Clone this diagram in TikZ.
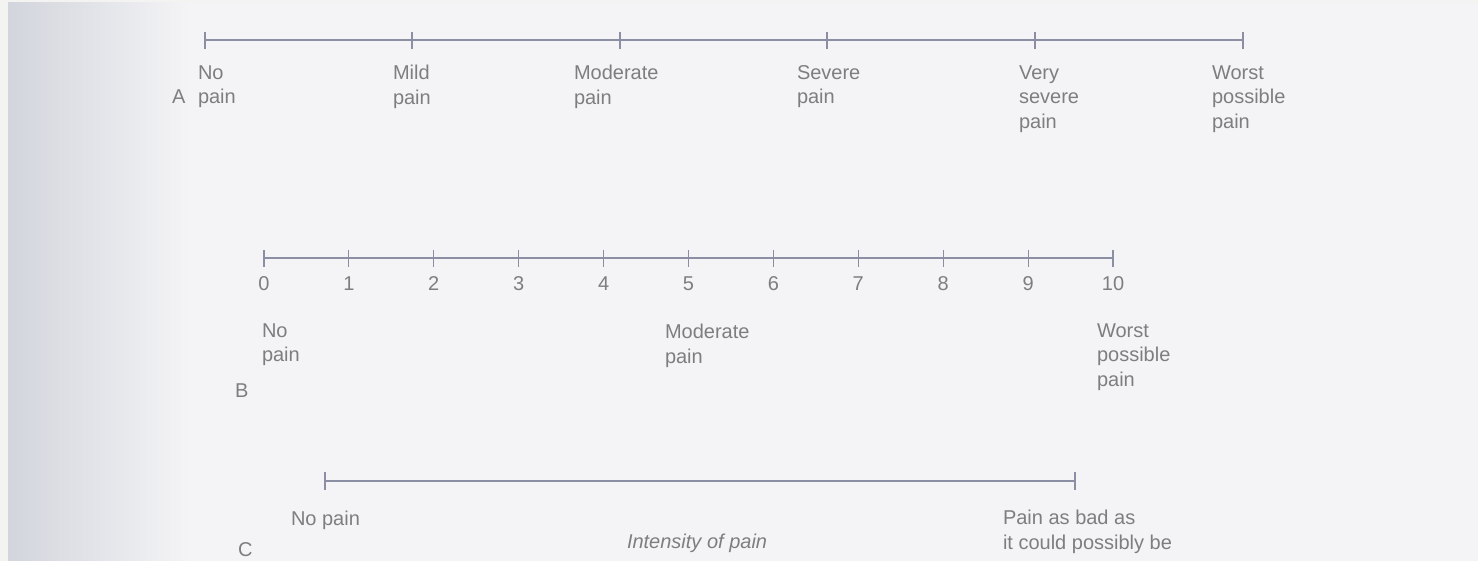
\documentclass[tikz,border=0pt]{standalone}
\usepackage{fontspec}
\setmainfont{Liberation Sans}
\definecolor{txtgray}{HTML}{7E7E7E}
\definecolor{linegray}{HTML}{8C8FA3}
\definecolor{pagebg}{HTML}{F3F3F1}
\definecolor{paper}{HTML}{F4F4F6}
\definecolor{paperdark}{HTML}{D2D5DC}
\tikzset{
  lbl/.style={anchor=north west, inner sep=0pt, outer sep=0pt, align=left, text=txtgray,
    font=\fontsize{20}{24.5}\selectfont},
  slbl/.style={anchor=base west, inner sep=0pt, outer sep=0pt, text=txtgray,
    font=\fontsize{20}{24}\selectfont},
  num/.style={anchor=base, inner sep=0pt, text=txtgray, font=\fontsize{20}{24}\selectfont},
  scaleline/.style={draw=linegray, line width=1.3pt},
  tickmark/.style={draw=linegray, line width=1.1pt},
}
\begin{document}
\begin{tikzpicture}[x=1pt,y=-1pt]
\useasboundingbox (0,0) rectangle (1478,561);
\fill[pagebg] (0,0) rectangle (1478,561);
\fill[paper] (8,3) rectangle (1478,561);
\shade[left color=paperdark, right color=paper] (8,3) rectangle (190,561);

% ---------- Scale A ----------
\foreach \n/\x in {0/205,1/412,2/620,3/827,4/1035,5/1243}{
  \coordinate (a\n) at (\x,40);
  \draw[tickmark] (\x,32) -- (\x,49);
}
\draw[scaleline] (a0) -- (a5);
\node[lbl] (aNo)    at (198,65.5)  {No\\pain};
\node[lbl] (aMild)  at (393,65.5)  {Mild\\pain};
\node[lbl] (aMod)   at (574,65.5)  {Moderate\\pain};
\node[lbl] (aSev)   at (797,65.5)  {Severe\\pain};
\node[lbl] (aVery)  at (1019,65.5) {Very\\severe\\pain};
\node[lbl] (aWorst) at (1212,65.5) {Worst\\possible\\pain};
\node[slbl] (labA)  at (172,104) {A};

% ---------- Scale B ----------
\foreach \n in {0,...,10}{
  \pgfmathsetmacro{\xx}{264+84.9*\n}
  \coordinate (b\n) at (\xx,258);
  \draw[tickmark] (\xx,250) -- (\xx,267);
  \node[num] (bn\n) at (\xx,291) {\n};
}
\draw[scaleline] (b0) -- (b10);
\node[lbl] (bNo)    at (262,323.5)  {No\\pain};
\node[lbl] (bMod)   at (665,324.5)  {Moderate\\pain};
\node[lbl] (bWorst) at (1097,323.5) {Worst\\possible\\pain};
\node[slbl] (labB)  at (235,397)  {B};

% ---------- Scale C ----------
\coordinate (c0) at (325,481);
\coordinate (c1) at (1075,481);
\draw[tickmark] (325,472) -- (325,490);
\draw[tickmark] (1075,472) -- (1075,490);
\draw[scaleline] (c0) -- (c1);
\node[slbl] (cNo)    at (291,525)  {No pain};
\node[lbl] (cWorst) at (1003,510.5) {Pain as bad as\\it could possibly be};
\node[slbl, font=\fontsize{20}{24}\selectfont\itshape] (cInt) at (627,548) {Intensity of pain};
\node[slbl] (labC)   at (238,556)  {C};
\end{tikzpicture}
\end{document}
